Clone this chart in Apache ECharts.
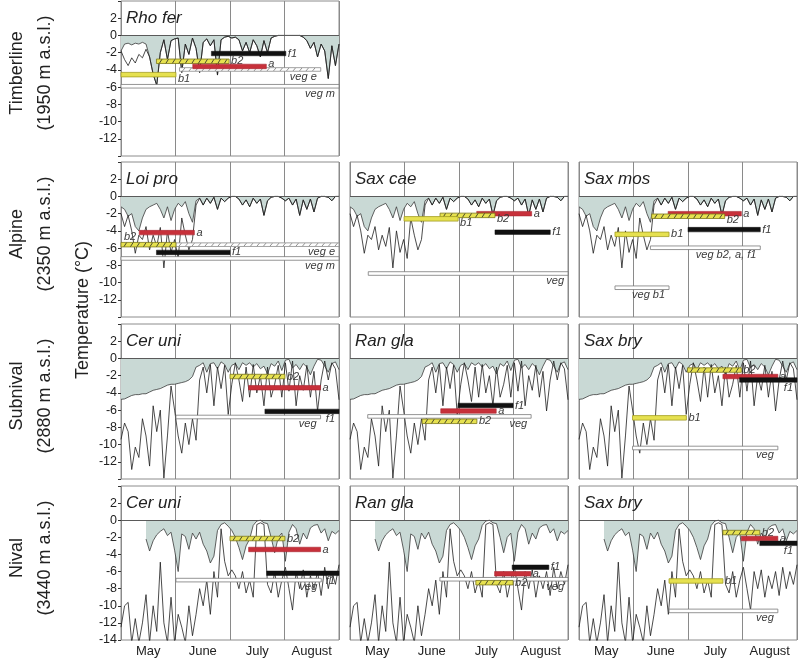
<!DOCTYPE html>
<html><head><meta charset="utf-8">
<script src="https://cdn.jsdelivr.net/npm/echarts@6/dist/echarts.min.js"></script>
<style>html,body{margin:0;padding:0;background:#fff}#c{width:798px;height:658px}</style>
</head><body><div id="c"></div>
<script>
// ---------- data ----------
const months = ['May', 'June', 'July', 'August'];

// temperature series (every ~2 days, May 1 – Aug 31), one pair per site
const timberUpper = [-1.8,-1.0,-0.9,-1.1,-0.9,-1.0,-0.8,-1.0,-2.5,-4.5, -5.8,-2.0,-0.5,-2.8,-0.6,-0.4,-0.3,-4.3,-1.0,-2.2, -0.3,-1.5,-4.3,-0.8,-0.4,-1.2,-0.5,-4.6,-0.5,-0.2, -0.1,-0.3,-0.2,-0.5,-1.8,-0.8,-2.0,-0.5,-1.2,-2.5, -0.6,-2.0,-0.3,-0.1,0,0,0,0,0,0, 0,-0.2,-0.6,-1.5,-0.8,-2.5,-1.0,-1.8,-5.0,-1.2, -3.5,-1.0];
const timberLower = [-1.8,-2.8,-3.5,-2.6,-3.2,-2.2,-2.6,-1.6,-2.5,-4.5, -5.8,-2.0,-0.5,-2.8,-0.6,-0.4,-0.3,-4.3,-1.0,-2.2, -0.3,-1.5,-4.3,-0.8,-0.4,-1.2,-0.5,-4.6,-0.5,-0.2, -0.1,-0.3,-0.2,-0.5,-1.8,-0.8,-2.0,-0.5,-1.2,-2.5, -0.6,-2.0,-0.3,-0.1,0,0,0,0,0,0, 0,-0.2,-0.6,-1.5,-0.8,-2.5,-1.0,-1.8,-5.0,-1.2, -3.5,-1.0];

const alpineUpper = [-1.2,-1.5,-2.3,-2.0,-3.5,-4.0,-2.5,-1.5,-1.2,-1.0, -0.8,-1.5,-2.5,-1.2,-2.8,-1.5,-0.8,-1.2,-0.6,-2.0, -3.0,-0.5,-0.2,-1.0,-0.2,-0.8,-0.1,-1.5,-0.2,-0.6, -0.2,0,0,-0.3,-1.0,-0.4,-1.2,-0.2,-0.8,-0.3, -2.2,-0.5,-0.1,0,0,-0.2,-0.5,-0.2,-1.0,-0.3, -2.2,-0.4,-1.5,-0.3,-1.8,-0.2,0,0,-0.1,-0.5, 0,0];
const alpineLower = [-2.0,-3.5,-2.2,-4.0,-6.6,-4.5,-5.0,-3.5,-6.2,-4.5, -5.8,-3.6,-8.3,-4.0,-6.5,-5.0,-7.2,-2.5,-4.5,-6.2, -5.0,-1.0,-0.2,-1.0,-0.2,-0.8,-0.1,-1.5,-0.2,-0.6, -0.2,0,0,-0.3,-1.0,-0.4,-1.2,-0.2,-0.8,-0.3, -2.2,-0.5,-0.1,0,0,-0.2,-0.5,-0.2,-1.0,-0.3, -2.2,-0.4,-1.5,-0.3,-1.8,-0.2,0,0,-0.1,-0.5, 0,0];

const subnivalUpper = [-4.75,-4.7,-4.5,-4.3,-4.2,-4.2,-4.1,-4.1,-3.9,-3.7, -3.6,-3.5,-3.3,-3.1,-3.0,-3.0,-2.9,-2.8,-2.7,-2.5, -2.1,-1.0,-0.8,-0.5,-1.6,-0.6,-0.5,-1.2,-0.4,-0.7, -1.6,-0.8,-0.6,-1.3,-0.5,-0.8,-0.5,-1.0,-0.6,-1.2, -0.9,-1.8,-0.6,-0.9,-0.3,-1.4,-0.2,-0.1,-1.1,-0.7, -1.3,-0.6,-1.0,-1.9,-0.9,-0.1,-0.2,-0.9,-1.6,-0.6, -0.4,-1.3];
const subnivalLower = [-9.4,-7.5,-8.5,-12.9,-10.3,-11.5,-7.0,-9.0,-12.5,-5.5, -8.5,-6.0,-13.9,-9.0,-3.2,-6.0,-9.0,-11.0,-7.5,-10.0, -7.0,-9.5,-2.5,-1.0,-4.0,-0.7,-5.5,-1.0,-3.5,-0.8, -6.5,-3.0,-0.5,-2.5,-5.0,-1.0,-4.5,-0.7,-4.0,-2.0, -5.5,-1.0,-4.5,-3.0,-0.8,-4.5,-0.5,-3.8,-0.3,-5.5, -2.0,-3.7,-0.8,-4.5,-1.5,-6.1,-2.5,-0.3,-2.5,-0.5, -1.2,-4.8];

const nivalUpper = [null,null,null,null,null,null,null,-2.2,-3.6,-2.4, -1.7,-1.3,-1.0,-1.8,-1.4,-3.5,-6.0,-1.6,-1.9,-3.4, -1.5,-2.2,-1.4,-2.8,-3.6,-5.0,-4.2,-1.2,-0.5,-0.3, -0.7,-1.2,-2.0,-3.2,-4.6,-3.0,-2.2,-0.6,-0.1,0, -0.3,-0.4,-2.0,-3.8,-2.0,-1.5,-4.8,-1.4,-0.5,-1.0, -2.8,-1.5,-2.2,-0.9,-0.6,-0.5,-1.5,-1.0,-2.4,-1.3, -1.6,-1.2];
const nivalLower = [-12.5,-10.0,-9.6,-14.3,-11.5,-14.3,-12.0,-8.7,-14.3,-10.0, -13.0,-4.9,-12.0,-14.3,-9.0,-14.3,-11.0,-12.5,-14.3,-10.0, -13.5,-11.0,-8.0,-10.0,-7.0,-11.0,-6.0,-9.0,-1.0,-4.8, -6.5,-5.8,-6.5,-8.0,-6.0,-8.5,-7.0,-9.0,-0.5,-0.3, -0.5,-7.5,-8.5,-6.0,-9.0,-7.0,-5.5,-8.0,-10.5,-6.0, -8.0,-5.8,-9.0,-6.5,-8.0,-6.0,-8.8,-5.5,-8.0,-6.0, -7.5,-5.2];

// phenological phases: [start day (from May 1), end day, temperature, label]
const rhoFerBars  = [[0,123,-5.9,'veg m'],[33,112.7,-3.95,'veg e'],[51,93,-2.1,'f1'],[20,61,-3.0,'b2'],[40.5,82,-3.6,'a'],[0,31,-4.55,'b1']];
const loiProBars  = [[0,123,-7.2,'veg m'],[31,123,-5.6,'veg e'],[10.3,41.4,-4.2,'a'],[0,31,-5.6,'b2'],[20,61.5,-6.5,'f1']];
const saxCaeBars  = [[10.3,123,-8.95,'veg'],[71.5,102.5,-2.0,'a'],[50.8,81.8,-2.2,'b2'],[30.5,61,-2.6,'b1'],[81.8,113,-4.15,'f1']];
const saxMosBars  = [[40.3,102.3,-5.96,'veg b2, a, f1'],[20.3,50.8,-10.6,'veg b1'],[50.3,91.6,-2.0,'a'],[41,82.2,-2.3,'b2'],[20.3,50.8,-4.4,'b1'],[61.5,102.3,-3.85,'f1']];
const cerUniSBars = [[31,112.6,-6.8,'veg'],[61.5,92.5,-2.1,'b2'],[72,112.6,-3.4,'a'],[81.2,123,-6.15,'f1']];
const ranGlaSBars = [[10,102.2,-6.73,'veg'],[61,92,-5.46,'f1'],[51.2,82.5,-6.1,'a'],[40.7,71.6,-7.3,'b2']];
const saxBrySBars = [[30.2,112.2,-10.4,'veg'],[61.2,91.6,-1.35,'b2'],[81.2,112.2,-2.1,'a'],[90.6,123,-2.5,'f1'],[30.2,60.6,-6.9,'b1']];
const cerUniNBars = [[31,113,-7.0,'veg'],[61.5,92.5,-2.14,'b2'],[72,112.6,-3.42,'a'],[82.2,123,-6.2,'f1']];
const ranGlaNBars = [[50.7,123,-6.9,'veg'],[91.5,112.2,-5.5,'f1'],[81.6,102,-6.26,'a'],[71,92,-7.3,'b2']];
const saxBryNBars = [[50.8,112.2,-10.6,'veg'],[81.2,102,-1.44,'b2'],[91.6,112.2,-2.14,'a'],[102,123,-2.7,'f1'],[50.8,81.2,-7.1,'b1']];

const rowLabels = [['Timberline','(1950 m a.s.l.)'],['Alpine','(2350 m a.s.l.)'],['Subnival','(2880 m a.s.l.)'],['Nival','(3440 m a.s.l.)']];
const axisTitle = 'Temperature (°C)';

// ---------- layout / styles ----------
const COL_LEFT = [121, 350, 579], ROW_TOP = [1, 162, 324, 486], PW = 218, PH = 155;
const FF = '"Liberation Sans", Arial, sans-serif';
const panels = [
  {name:'Rho fer', row:0, col:0, up:timberUpper, lo:timberLower, bars:rhoFerBars,
   place:{'a':'rightHigh','b1':'rightLow'}},
  {name:'Loi pro', row:1, col:0, up:alpineUpper, lo:alpineLower, bars:loiProBars, place:{'b2':'aboveLeft'}},
  {name:'Sax cae', row:1, col:1, up:alpineUpper, lo:alpineLower, bars:saxCaeBars, place:{'b1':'rightLow','b2':'rightLow'}},
  {name:'Sax mos', row:1, col:2, up:alpineUpper, lo:alpineLower, bars:saxMosBars, place:{'b2':'rightLow'}},
  {name:'Cer uni', row:2, col:0, up:subnivalUpper, lo:subnivalLower, bars:cerUniSBars, place:{'f1':'below'}},
  {name:'Ran gla', row:2, col:1, up:subnivalUpper, lo:subnivalLower, bars:ranGlaSBars, place:{}},
  {name:'Sax bry', row:2, col:2, up:subnivalUpper, lo:subnivalLower, bars:saxBrySBars, place:{'f1':'below'}},
  {name:'Cer uni', row:3, col:0, up:nivalUpper, lo:nivalLower, bars:cerUniNBars, place:{'f1':'below'}},
  {name:'Ran gla', row:3, col:1, up:nivalUpper, lo:nivalLower, bars:ranGlaNBars, place:{}},
  {name:'Sax bry', row:3, col:2, up:nivalUpper, lo:nivalLower, bars:saxBryNBars, place:{'f1':'below'}}
];

function barStyle(label) {
  if (label === 'b1') return {fill:'#e6e150', stroke:'#a39d22', lw:0.8, h:4.5};
  if (label === 'b2') return {fill:'#e6e150', stroke:'#7d7818', lw:0.8, h:4.5, hatch:'#222'};
  if (label === 'a') return {fill:'#c7303a', stroke:'#a82530', lw:0.6, h:4.5};
  if (label === 'f1') return {fill:'#111111', stroke:'#111111', lw:0.5, h:4.5};
  if (label === 'veg e') return {fill:'#ffffff', stroke:'#8a8a8a', lw:0.8, h:3.6, hatch:'#777'};
  return {fill:'#ffffff', stroke:'#7a7a7a', lw:0.8, h:3.6};
}

function makeRender(panel) {
  return function (params, api) {
    const b = panel.bars[params.dataIndex];
    const p0 = api.coord([b[0], b[2]]);
    const p1 = api.coord([b[1], b[2]]);
    const st = barStyle(b[3]);
    const x0 = p0[0], x1 = p1[0], yc = p0[1], h = st.h;
    const ch = [{type:'rect', shape:{x:x0, y:yc - h/2, width:x1 - x0, height:h},
      style:{fill:st.fill, stroke:st.stroke, lineWidth:st.lw}}];
    if (st.hatch) {
      for (let x = x0 + 3; x < x1 - 3; x += 6.5) {
        ch.push({type:'line', shape:{x1:x, y1:yc + h/2 - 0.3, x2:x + 2.5, y2:yc - h/2 + 0.3},
          style:{stroke:st.hatch, lineWidth:0.8}});
      }
    }
    let mode = panel.place[b[3]] || (b[3].indexOf('veg') === 0 ? 'below' : 'right');
    let tx, ty, al = 'left', va = 'middle';
    if (mode === 'right') { tx = x1 + 2; ty = yc; }
    else if (mode === 'rightLow') { tx = x1 + 2; ty = yc + 4; }
    else if (mode === 'rightHigh') { tx = x1 + 2; ty = yc - 3; }
    else if (mode === 'aboveLeft') { tx = x0 + 3; ty = yc - h/2 - 5; }
    else { tx = x1 - 4; ty = yc + h/2 + 5.5; al = 'right'; }
    ch.push({type:'text', x:tx, y:ty, style:{text:b[3], font:'italic 11px ' + FF, fill:'#3a3a3a',
      textAlign:al, textVerticalAlign:va, align:al, verticalAlign:va}});
    return {type:'group', children:ch};
  };
}

const grid = [], xAxis = [], yAxis = [], series = [], title = [];
panels.forEach((p, k) => {
  const left = COL_LEFT[p.col], top = ROW_TOP[p.row];
  grid.push({left, top, width:PW, height:PH, show:true, borderColor:'#8c8c8c', borderWidth:1, backgroundColor:'#fff'});
  xAxis.push({type:'category', gridIndex:k, data:p.up.map((_, i) => i), boundaryGap:false, show:false});
  xAxis.push({type:'value', gridIndex:k, min:0, max:123, show:false});
  xAxis.push({type:'category', gridIndex:k, data:months, boundaryGap:true, position:'bottom',
    axisLine:{show:false, onZero:false}, axisTick:{show:false},
    axisLabel:{show:p.row === 3, interval:0, fontSize:13, color:'#222', margin:5, fontFamily:FF},
    splitLine:{show:true, interval:0, lineStyle:{color:'#8a8a8a', width:1}}});
  yAxis.push({type:'value', gridIndex:k, min:-14, max:4, interval:2,
    axisLine:{show:false}, splitLine:{show:false},
    axisTick:{show:p.col === 0, length:3, lineStyle:{color:'#333'}},
    axisLabel:{show:p.col === 0, fontSize:12.5, color:'#222', margin:4, fontFamily:FF,
      formatter:v => (v === 4 || (v === -14 && p.row !== 3)) ? '' : String(v)}});
  series.push({type:'line', xAxisIndex:3*k, yAxisIndex:k, data:p.up, symbol:'none', showSymbol:false,
    smooth:false, connectNulls:false,
    lineStyle:{color:'#3a3a3a', width:0.8}, areaStyle:{color:'#c9d9d5', opacity:1, origin:0}, z:2, silent:true,
    markLine:{silent:true, symbol:'none', label:{show:false}, animation:false,
      lineStyle:{color:'#5a5a5a', width:1, type:'solid'}, data:[{yAxis:0}]}});
  series.push({type:'line', xAxisIndex:3*k, yAxisIndex:k, data:p.lo, symbol:'none', showSymbol:false,
    smooth:false, lineStyle:{color:'#1e1e1e', width:0.8}, z:3, silent:true});
  series.push({type:'custom', xAxisIndex:3*k + 1, yAxisIndex:k,
    data:p.bars.map(b => [b[0], b[1], b[2]]), encode:{x:[0, 1], y:2},
    renderItem:makeRender(p), z:5, silent:true});
  title.push({text:p.name, left:left + 5, top:top + 9, padding:0,
    textStyle:{fontSize:17, fontStyle:'italic', fontWeight:'normal', color:'#222', fontFamily:FF}});
});

const graphic = [];
rowLabels.forEach((r, i) => {
  const cy = ROW_TOP[i] + 72;
  graphic.push({type:'text', x:17, y:cy, rotation:Math.PI/2,
    style:{text:r[0], font:'18px ' + FF, fill:'#222', textAlign:'center', textVerticalAlign:'middle'}});
  graphic.push({type:'text', x:45, y:cy, rotation:Math.PI/2,
    style:{text:r[1], font:'18px ' + FF, fill:'#222', textAlign:'center', textVerticalAlign:'middle'}});
});
graphic.push({type:'text', x:83, y:310, rotation:Math.PI/2,
  style:{text:axisTitle, font:'18px ' + FF, fill:'#222', textAlign:'center', textVerticalAlign:'middle'}});

const chart = echarts.init(document.getElementById('c'), null, {renderer:'canvas'});
chart.setOption({animation:false, backgroundColor:'#fff', title, grid, xAxis, yAxis, series, graphic});
</script>
</body></html>
